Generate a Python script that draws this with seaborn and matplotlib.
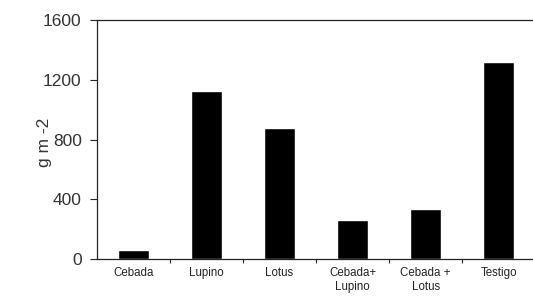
import numpy as np
import pandas as pd
import matplotlib
matplotlib.use("Agg")
import matplotlib.pyplot as plt
import seaborn as sns

# Datos
tratamientos = ["Cebada", "Lupino", "Lotus", "Cebada+\nLupino", "Cebada +\nLotus", "Testigo"]
biomasa = [60, 1125, 877, 262, 335, 1320]

df = pd.DataFrame({"Tratamiento": tratamientos, "Biomasa": biomasa})

sns.set_style("ticks")
plt.rcParams['font.family'] = ['Liberation Sans', 'DejaVu Sans']

fig = plt.figure(figsize=(5.33, 3.04), dpi=100)
ax = fig.add_axes([0.182, 0.148, 0.822, 0.786])

sns.barplot(data=df, x="Tratamiento", y="Biomasa", color="black",
            width=0.42, saturation=1, ax=ax)

ax.set_ylim(0, 1600)
ax.set_xlim(-0.5, len(tratamientos) - 0.5)
ax.set_yticks([0, 400, 800, 1200, 1600])
ax.set_xlabel("")
ax.set_ylabel("g m -2", fontsize=12.5, color="#333333")
ax.yaxis.set_label_coords(-0.102, 0.49)  # etiqueta pegada a los números de 3 dígitos

# Marcas en x entre categorías
ax.set_xticks(np.arange(0.5, len(tratamientos) - 0.5), minor=True)
ax.tick_params(axis="x", which="major", length=0, labelsize=8.3, pad=6, labelcolor="#222222")
ax.tick_params(axis="x", which="minor", length=3, width=0.8, direction="out")
ax.tick_params(axis="y", length=5, width=0.8, labelsize=12.5, pad=6, labelcolor="#333333")

for s in ["left", "bottom", "top"]:
    ax.spines[s].set_linewidth(0.9)
    ax.spines[s].set_color("#222222")
ax.spines["right"].set_visible(False)

fig.savefig("out.png", dpi=100)
